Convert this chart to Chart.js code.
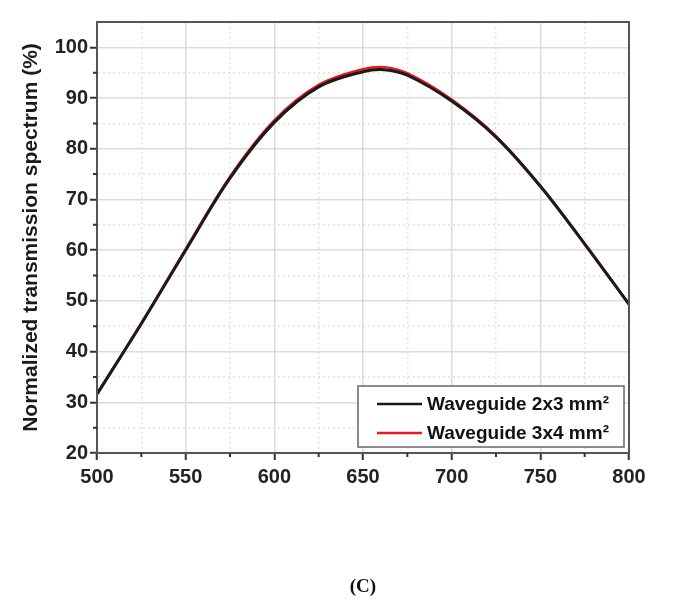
<!DOCTYPE html>
<html>
<head>
<meta charset="utf-8">
<script src="https://cdn.jsdelivr.net/npm/chart.js@4/dist/chart.umd.min.js"></script>
<style>
  body { margin: 0; background: #fff; }
  #wrap { position: relative; width: 697px; height: 601px; }
  #caption {
    position: absolute; left: 333px; top: 575px; width: 60px; text-align: center;
    font: bold 19px "Liberation Serif", "DejaVu Serif", serif; color: #111;
  }
</style>
</head>
<body>
<div id="wrap">
  <canvas id="chart"></canvas>
  <div id="caption">(C)</div>
</div>
<script>
/* Wavelength (nm) and normalized transmission (%) for both waveguides. */
const wavelength = [500, 525, 550, 575, 600, 625, 650, 662, 675, 700, 725, 750, 775, 800]
const guideSmall = [31.6, 45.5, 60.0, 74.2, 85.2, 92.2, 95.2, 95.6, 94.5, 89.4, 82.3, 72.6, 61.2, 49.3]
const guideLarge = [31.7, 45.6, 60.2, 74.5, 85.6, 92.6, 95.7, 96.1, 94.9, 89.7, 82.5, 72.7, 61.3, 49.4]
const seriesLabels = ["Waveguide 2x3 mm²", "Waveguide 3x4 mm²"]
const seriesColors = ["#1a1a1a", "#e8181e"]

const axisFont = { family: "'Liberation Sans', Arial, sans-serif", size: 20, weight: "bold" }
const titleFont = { family: "'Liberation Sans', Arial, sans-serif", size: 21, weight: "bold" }

/* Zip x and y into point objects. */
const toPoints = values => values.map((v, i) => ({ x: wavelength[i], y: v }))

/* Major lines every 50 nm / 10 %, dotted minor lines in between. */
const isMajorX = v => v % 50 === 0
const isMajorY = v => v % 10 === 0

/* Short outward minor ticks on left and bottom axes. */
const minorTicks = {
  id: "minorTicks",
  afterDraw(chart) {
    const { ctx, chartArea, scales } = chart
    ctx.save()
    ctx.strokeStyle = "#333"
    ctx.lineWidth = 2
    ctx.beginPath()
    for (let v = 525; v < 800; v += 50) {
      const px = scales.x.getPixelForValue(v)
      ctx.moveTo(px, chartArea.bottom)
      ctx.lineTo(px, chartArea.bottom + 4)
    }
    for (let v = 25; v < 105; v += 10) {
      const py = scales.y.getPixelForValue(v)
      ctx.moveTo(chartArea.left, py)
      ctx.lineTo(chartArea.left - 4, py)
    }
    ctx.stroke()
    ctx.restore()
  }
}

/* Frame round the plot area. */
const frame = {
  id: "frame",
  afterDatasetsDraw(chart) {
    const { ctx, chartArea } = chart
    ctx.save()
    ctx.strokeStyle = "#555"
    ctx.lineWidth = 2
    ctx.strokeRect(chartArea.left, chartArea.top, chartArea.right - chartArea.left, chartArea.bottom - chartArea.top)
    ctx.restore()
  }
}

/* Boxed legend in the lower right corner of the plot. */
const boxLegend = {
  id: "boxLegend",
  afterDraw(chart) {
    const { ctx, chartArea } = chart
    const w = 266
    const h = 61
    const x = chartArea.right - 5 - w
    const y = chartArea.bottom - 6 - h
    ctx.save()
    ctx.fillStyle = "#fff"
    ctx.fillRect(x, y, w, h)
    ctx.strokeStyle = "#666"
    ctx.lineWidth = 1.5
    ctx.strokeRect(x, y, w, h)
    ctx.font = "bold 19px 'Liberation Sans', Arial, sans-serif"
    ctx.textBaseline = "middle"
    chart.data.datasets.forEach((ds, i) => {
      const rowY = y + 18 + i * 29
      ctx.strokeStyle = ds.borderColor
      ctx.lineWidth = 2.5
      ctx.beginPath()
      ctx.moveTo(x + 19, rowY)
      ctx.lineTo(x + 64, rowY)
      ctx.stroke()
      ctx.fillStyle = "#111"
      ctx.fillText(ds.label, x + 69, rowY + 1)
    })
    ctx.restore()
  }
}

const ctx = document.getElementById("chart").getContext("2d")
const chart = new Chart(ctx, {
  type: "line",
  data: {
    datasets: [{
      label: seriesLabels[0],
      data: toPoints(guideSmall),
      borderColor: seriesColors[0],
      borderWidth: 3,
      pointRadius: 0,
      tension: 0.35
    }, {
      label: seriesLabels[1],
      data: toPoints(guideLarge),
      borderColor: seriesColors[1],
      borderWidth: 2.5,
      pointRadius: 0,
      tension: 0.35
    }]
  },
  options: {
    responsive: true,
    maintainAspectRatio: false,
    animation: false,
    layout: { padding: { left: 0, top: 22, right: 68, bottom: 0 } },
    plugins: {
      legend: { display: false },
      tooltip: { enabled: false }
    },
    scales: {
      x: {
        type: "linear",
        min: 500,
        max: 800,
        afterFit: scale => { scale.height = 148 },
        ticks: {
          stepSize: 25,
          color: "#222",
          font: axisFont,
          padding: 5,
          maxRotation: 0,
          autoSkip: false,
          callback: v => isMajorX(v) ? v : ""
        },
        grid: {
          color: c => c.tick && isMajorX(c.tick.value) ? "#dcdcdc" : "#e2e2e2",
          lineWidth: 1.5,
          tickLength: 7,
          tickWidth: 2,
          tickColor: c => c.tick && isMajorX(c.tick.value) ? "#333" : "rgba(0,0,0,0)"
        },
        border: {
          color: "#444",
          width: 2,
          dash: c => c.tick && !isMajorX(c.tick.value) ? [2, 3] : []
        }
      },
      y: {
        min: 20,
        max: 105,
        afterFit: scale => { scale.width = 97 },
        title: {
          display: true,
          text: "Normalized transmission spectrum (%)",
          color: "#1a1a1a",
          font: titleFont,
          padding: { top: 19, bottom: 0 }
        },
        ticks: {
          stepSize: 5,
          color: "#222",
          font: axisFont,
          padding: 2,
          autoSkip: false,
          callback: v => isMajorY(v) && v <= 100 ? v : ""
        },
        grid: {
          color: c => c.tick && isMajorY(c.tick.value) ? "#dcdcdc" : "#e2e2e2",
          lineWidth: 1.5,
          tickLength: 7,
          tickWidth: 2,
          tickColor: c => c.tick && isMajorY(c.tick.value) && c.tick.value <= 100 ? "#333" : "rgba(0,0,0,0)"
        },
        border: {
          color: "#444",
          width: 2,
          dash: c => c.tick && !isMajorY(c.tick.value) ? [2, 3] : []
        }
      }
    }
  },
  plugins: [frame, minorTicks, boxLegend]
})
</script>
</body>
</html>
